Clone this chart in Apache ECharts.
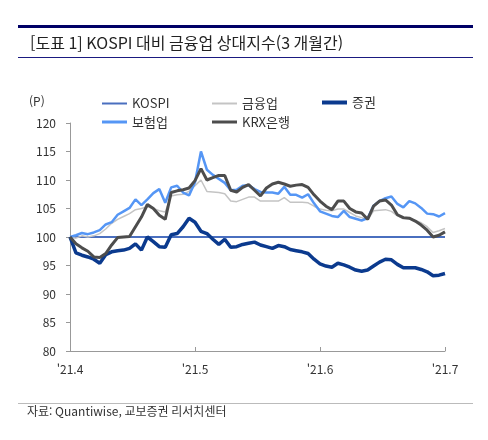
<!DOCTYPE html>
<html lang="ko">
    <head>
        <meta charset="UTF-8" />
        <title>KOSPI 대비 금융업 상대지수</title>
        <script src="https://cdn.jsdelivr.net/npm/echarts@6.0.0/dist/echarts.min.js"></script>
        <style>
            html, body { margin: 0; padding: 0; background: #fff; }
        </style>
    </head>
    <body>
        <!-- Chart container -->
        <div id="main" style="width: 488px; height: 440px"></div>

        <script>
            // Tick labels on the x axis (every 21 trading days)
            const tickLabels = ["'21.4", "'21.5", "'21.6", "'21.7"];

            // Relative indices (KOSPI = 100), one value per trading day
            const kospi = [
                100, 100, 100, 100, 100, 100, 100, 100, 100, 100, 100, 100, 100, 100, 100, 100,
                100, 100, 100, 100, 100, 100, 100, 100, 100, 100, 100, 100, 100, 100, 100, 100,
                100, 100, 100, 100, 100, 100, 100, 100, 100, 100, 100, 100, 100, 100, 100, 100,
                100, 100, 100, 100, 100, 100, 100, 100, 100, 100, 100, 100, 100, 100, 100, 100
            ];
            const finance = [
                100, 99.8, 100.2, 100, 100.2, 100.6, 101.4, 102.4, 103.1, 103.6, 104.1, 104.8, 105, 105.3, 105, 104.6,
                104.4, 107.2, 107.4, 107.5, 108, 109, 110, 108, 107.9, 107.8, 107.6, 106.3, 106.2, 106.6, 107, 107,
                106.3, 106.3, 106.3, 106.3, 106.9, 106.1, 106.1, 106.1, 106, 105.4, 104.9, 104.7, 104.6, 104.9, 104.9, 104.3,
                103.7, 103.4, 103, 104.6, 104.7, 104.8, 104.5, 103.7, 103.2, 103.2, 102.9, 102.5, 101.8, 100.8, 101.1, 101.5
            ];
            const securities = [
                100, 97.2, 96.8, 96.5, 96.1, 95.4, 96.9, 97.4, 97.6, 97.7, 98, 98.8, 97.7, 100, 99.2, 98.3,
                98.2, 100.4, 100.6, 101.8, 103.3, 102.6, 101, 100.6, 99.6, 98.7, 99.6, 98.2, 98.3, 98.7, 98.9, 99.1,
                98.6, 98.3, 98, 98.5, 98.3, 97.8, 97.6, 97.4, 97.1, 96.1, 95.3, 94.9, 94.7, 95.4, 95.1, 94.7,
                94.2, 94, 94.2, 94.9, 95.6, 96.1, 96, 95.2, 94.6, 94.6, 94.6, 94.3, 93.9, 93.2, 93.3, 93.6
            ];
            const insurance = [
                100, 100.3, 100.7, 100.5, 100.8, 101.2, 102.2, 102.6, 103.9, 104.5, 105.1, 106.6, 105.6, 106.6, 107.7, 108.4,
                106, 108.7, 109, 107.8, 107.3, 109.6, 115, 111.8, 110.9, 110.2, 109.5, 108.2, 108.3, 109, 109.1, 108.4,
                107.9, 107.8, 107.8, 107.6, 108.8, 107.4, 107.4, 106.9, 107.5, 105.9, 104.5, 104.1, 103.7, 103.5, 104.6, 103.5,
                103.2, 102.9, 103.3, 105.5, 106.3, 106.8, 107.1, 105.8, 105.2, 106.3, 105.9, 105.1, 104.1, 104, 103.6, 104.2
            ];
            const krxBank = [
                100, 98.8, 98.1, 97.5, 96.5, 96.4, 97.1, 98.6, 99.9, 100, 100.1, 101.8, 103.5, 105.7, 105, 103.8,
                103.1, 107.8, 108.1, 108.3, 108.6, 109.9, 112, 110, 110.4, 110.8, 110.8, 108.2, 107.9, 108.7, 109.2, 108.2,
                107.2, 108.6, 109.3, 109.6, 109.3, 108.9, 109.1, 109.2, 108.7, 107.4, 106.3, 105.4, 104.8, 106.3, 106.3, 105,
                104.4, 104.2, 103.1, 105.4, 106.3, 106.5, 105.6, 103.9, 103.4, 103.3, 102.8, 102.1, 101.2, 100, 100.3, 100.9
            ];

            const FONT = "'Noto Sans CJK KR', 'Noto Sans', sans-serif";
            const toPoints = (arr) => arr.map((v, i) => [i, v]);

            let myChart = echarts.init(document.getElementById("main"));

            // one legend per item so each sits where the reference puts it
            function legendAt(name, left, top, thick) {
                return {
                    data: [name],
                    left: left,
                    top: top + (4 - thick) / 2,
                    icon: "rect",
                    itemWidth: 25,
                    itemHeight: thick,
                    itemGap: 4,
                    textStyle: { fontFamily: FONT, fontSize: 13, color: "#333" }
                };
            }

            function lineSeries(name, values, color, width) {
                return {
                    name: name,
                    type: "line",
                    data: toPoints(values),
                    showSymbol: false,
                    symbol: "none",
                    lineStyle: { color: color, width: width },
                    itemStyle: { color: color },
                    emphasis: { disabled: true },
                    animation: false
                };
            }

            let options = {
                animation: false,
                graphic: [
                    { type: "rect", shape: { x: 18, y: 25, width: 455, height: 3 }, style: { fill: "#000066" } },
                    {
                        type: "text", left: 30, top: 35,
                        style: { text: "[도표 1] KOSPI 대비 금융업 상대지수(3 개월간)", font: "16px " + FONT, fill: "#222" }
                    },
                    { type: "rect", shape: { x: 18, y: 57, width: 455, height: 1 }, style: { fill: "#1a1a80" } },
                    {
                        type: "text", left: 29, top: 95,
                        style: { text: "(P)", font: "12px " + FONT, fill: "#333" }
                    },
                    { type: "rect", shape: { x: 18, y: 403, width: 455, height: 1 }, style: { fill: "#bbb" } },
                    {
                        type: "text", left: 27, top: 405,
                        style: { text: "자료: Quantiwise, 교보증권 리서치센터", font: "12px " + FONT, fill: "#333" }
                    }
                ],
                legend: [
                    legendAt("KOSPI", 97, 91, 2),
                    legendAt("금융업", 207, 91, 2),
                    legendAt("증권", 317, 91, 4),
                    legendAt("보험업", 97, 110, 3),
                    legendAt("KRX은행", 207, 110, 3)
                ],
                grid: { left: 70, right: 43, top: 123, bottom: 89 },
                xAxis: {
                    type: "value",
                    min: 0,
                    max: 63,
                    interval: 21,
                    axisLine: { show: true, lineStyle: { color: "#999" } },
                    axisTick: { show: true, inside: true, length: 4, lineStyle: { color: "#999" } },
                    splitLine: { show: false },
                    axisLabel: {
                        fontFamily: FONT, fontSize: 12, color: "#333", margin: 12,
                        formatter: (v) => tickLabels[Math.round(v / 21)]
                    }
                },
                yAxis: {
                    type: "value",
                    min: 80,
                    max: 120,
                    interval: 5,
                    axisLine: { show: true, lineStyle: { color: "#999" } },
                    axisTick: { show: true, length: 4, lineStyle: { color: "#999" } },
                    splitLine: { show: false },
                    axisLabel: { fontFamily: FONT, fontSize: 12, color: "#333", margin: 14 }
                },
                series: [
                    lineSeries("KOSPI", kospi, "#4a6fbf", 2),
                    lineSeries("금융업", finance, "#c4c4c4", 1.5),
                    lineSeries("보험업", insurance, "#5596f5", 2.5),
                    lineSeries("증권", securities, "#0b3a8e", 3.5),
                    lineSeries("KRX은행", krxBank, "#4d4d4d", 3)
                ]
            };

            myChart.setOption(options);
        </script>
    </body>
</html>
